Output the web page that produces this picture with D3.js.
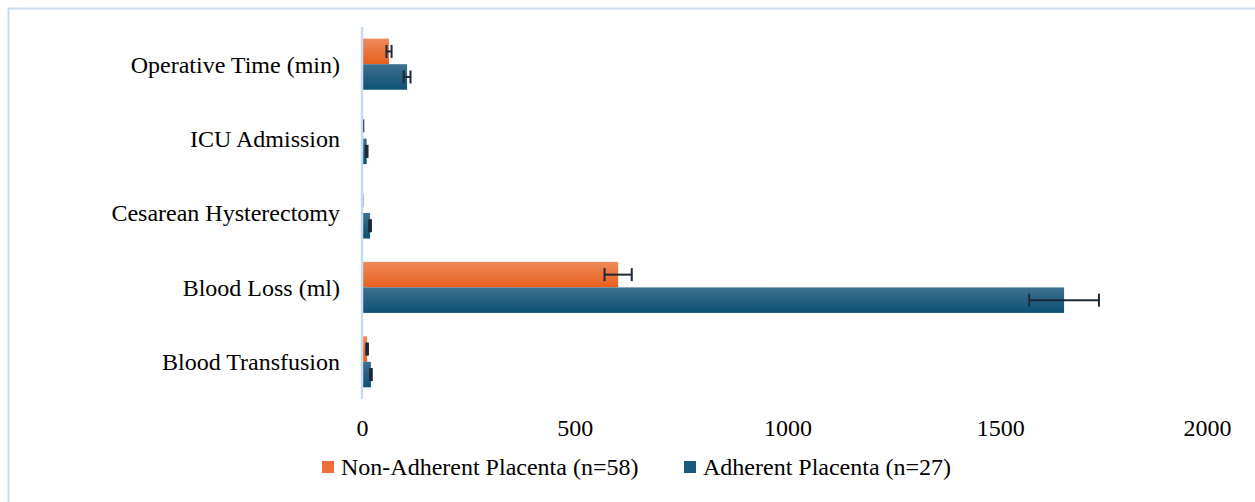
<!DOCTYPE html>
<html>
<head>
<meta charset="utf-8">
<script src="https://cdn.jsdelivr.net/npm/d3@7"></script>
<style>
  body { margin: 0; background: #fff; }
  text { font-family: "Liberation Serif", "Times New Roman", serif; fill: #000; }
</style>
</head>
<body>
<svg id="chart"></svg>
<script>
// data
var categories = ['Operative Time (min)', 'ICU Admission', 'Cesarean Hysterectomy', 'Blood Loss (ml)', 'Blood Transfusion'];
var seriesNames = ['Non-Adherent Placenta (n=58)', 'Adherent Placenta (n=27)'];
var nonAdherent = [63.5, 1.5, 0.3, 602, 12];
var nonAdherentErr = [6, 1.5, 0.5, 32, 2];
var adherent = [106, 11, 19, 1650, 21];
var adherentErr = [8, 2, 2, 82, 2];
var xTicks = [0, 500, 1000, 1500, 2000];

var w = 1255, h = 502;
var serif = '"Liberation Serif", "Times New Roman", serif';
var svg = d3.select('#chart').attr('width', w).attr('height', h);

// outer frame
svg.append('rect')
  .attr('x', 8.5).attr('y', 8.5)
  .attr('width', w).attr('height', h)
  .attr('fill', 'none').attr('stroke', '#c8dbf1').attr('stroke-width', 2);

var defs = svg.append('defs');
function grad(id, top, bottom) {
  var g = defs.append('linearGradient').attr('id', id)
    .attr('x1', 0).attr('y1', 0).attr('x2', 0).attr('y2', 1);
  g.append('stop').attr('offset', '0%').attr('stop-color', top);
  g.append('stop').attr('offset', '100%').attr('stop-color', bottom);
}
grad('gOrange', '#ef8a5a', '#e85f1d');
grad('gBlue', '#3f7090', '#0c5174');

var colors = ['url(#gOrange)', 'url(#gBlue)'];
var swatch = ['#ec6e34', '#1b5a7c'];

var x = d3.scaleLinear().domain([0, 2000]).range([362, 1213]);
var y = d3.scaleBand().domain(categories).range([27, 399])
  .paddingInner(0.314).paddingOuter(0.157);
var ySub = d3.scaleBand().domain([0, 1]).range([0, y.bandwidth()]);

var rows = categories.map(function(c, i) {
  return {cat: c, vals: [
    {s: 0, v: nonAdherent[i], e: nonAdherentErr[i]},
    {s: 1, v: adherent[i], e: adherentErr[i]}
  ]};
});

var groups = svg.selectAll('g.cat')
  .data(rows)
  .enter()
  .append('g')
  .attr('class', 'cat')
  .attr('transform', function(d){ return 'translate(0,' + y(d.cat) + ')'; });

groups.selectAll('rect')
  .data(function(d){ return d.vals; })
  .enter()
  .append('rect')
  .attr('x', x(0))
  .attr('y', function(d){ return ySub(d.s); })
  .attr('width', function(d){ return x(d.v) - x(0); })
  .attr('height', ySub.bandwidth())
  .attr('fill', function(d){ return colors[d.s]; });

// error bars
var err = groups.selectAll('g.err')
  .data(function(d){ return d.vals; })
  .enter()
  .append('g')
  .attr('class', 'err')
  .attr('stroke', '#1c2838')
  .attr('stroke-width', 2);

err.append('line')
  .attr('x1', function(d){ return x(Math.max(0, d.v - d.e)); })
  .attr('x2', function(d){ return x(d.v + d.e); })
  .attr('y1', function(d){ return ySub(d.s) + ySub.bandwidth() / 2; })
  .attr('y2', function(d){ return ySub(d.s) + ySub.bandwidth() / 2; });

[-1, 1].forEach(function(sign) {
  err.append('line')
    .attr('x1', function(d){ return x(Math.max(0, d.v + sign * d.e)); })
    .attr('x2', function(d){ return x(Math.max(0, d.v + sign * d.e)); })
    .attr('y1', function(d){ return ySub(d.s) + ySub.bandwidth() / 2 - 6.5; })
    .attr('y2', function(d){ return ySub(d.s) + ySub.bandwidth() / 2 + 6.5; });
});

// vertical axis line
svg.append('line')
  .attr('x1', x(0)).attr('x2', x(0))
  .attr('y1', 27).attr('y2', 399)
  .attr('stroke', '#c8dbf1').attr('stroke-width', 2.5);

// category labels
svg.selectAll('text.cat')
  .data(categories)
  .enter()
  .append('text')
  .attr('class', 'cat')
  .attr('x', 340)
  .attr('y', function(d){ return y(d) + y.bandwidth() / 2; })
  .attr('dy', '0.35em')
  .attr('text-anchor', 'end')
  .style('font-family', serif)
  .style('font-size', '24px')
  .text(function(d){ return d; });

// x tick labels
var xAxis = d3.axisBottom(x).tickValues(xTicks).tickFormat(d3.format('d'))
  .tickSize(0).tickPadding(0);
var gx = svg.append('g')
  .attr('transform', 'translate(0,418)')
  .call(xAxis)
  .attr('font-family', serif)
  .attr('font-size', 24);
gx.select('.domain').remove();
gx.selectAll('text')
  .attr('dy', null)
  .attr('y', 18)
  .attr('fill', '#000');
// the last label sits a little inside the plot edge
gx.selectAll('.tick').filter(function(d){ return d === 2000; })
  .select('text').attr('x', -6);

// legend
var legendX = [322, 684];
var legend = svg.selectAll('g.legend')
  .data(seriesNames)
  .enter()
  .append('g')
  .attr('class', 'legend')
  .attr('transform', function(d, i){ return 'translate(' + legendX[i] + ',461)'; });

legend.append('rect')
  .attr('width', 12).attr('height', 12)
  .attr('fill', function(d, i){ return swatch[i]; });

legend.append('text')
  .attr('x', 19)
  .attr('y', 14)
  .style('font-family', serif)
  .style('font-size', '24px')
  .text(function(d){ return d; });
</script>
</body>
</html>
